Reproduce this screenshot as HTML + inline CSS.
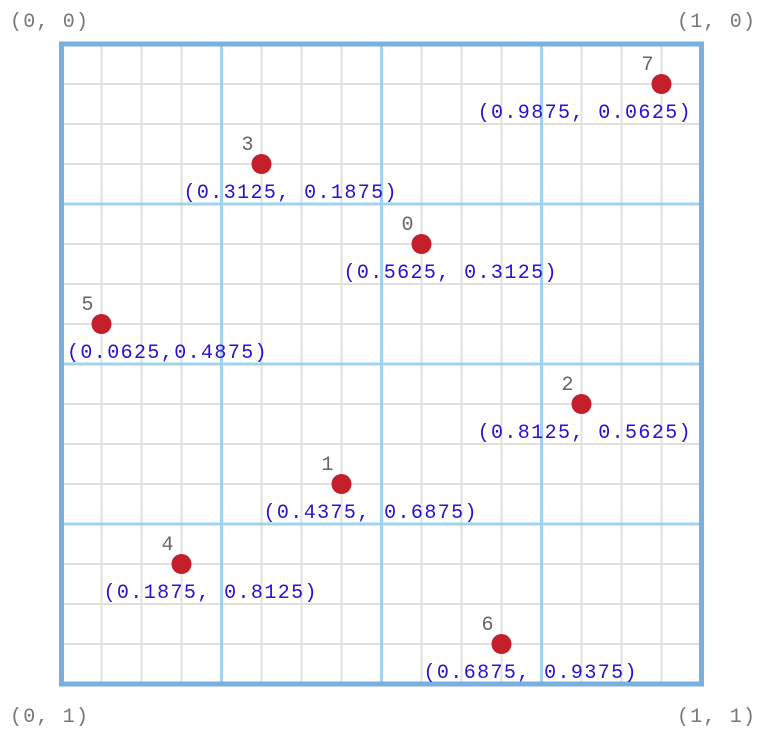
<!DOCTYPE html>
<html><head><meta charset="utf-8"><style>
html,body{margin:0;padding:0;background:#fff;}
svg text{font-family:"Liberation Mono",monospace;}
</style></head><body>
<svg id="chart" width="766" height="739" xmlns="http://www.w3.org/2000/svg">
<g id="grid"></g>
<g id="marks"></g>
<text x="10" y="27" font-size="20" fill="#777" letter-spacing="1.2">(0, 0)</text>
<text x="677" y="27" font-size="20" fill="#777" letter-spacing="1.2">(1, 0)</text>
<text x="10" y="722" font-size="20" fill="#777" letter-spacing="1.2">(0, 1)</text>
<text x="677" y="722" font-size="20" fill="#777" letter-spacing="1.2">(1, 1)</text>
</svg>
<script>
const ids=[0,1,2,3,4,5,6,7];
const xs=[0.5625,0.4375,0.8125,0.3125,0.1875,0.0625,0.6875,0.9375];
const ys=[0.3125,0.6875,0.5625,0.1875,0.8125,0.4375,0.9375,0.0625];
const labels=["(0.5625, 0.3125)","(0.4375, 0.6875)","(0.8125, 0.5625)","(0.3125, 0.1875)","(0.1875, 0.8125)","(0.0625,0.4875)","(0.6875, 0.9375)","(0.9875, 0.0625)"];
const X0=61.5,Y0=44,S=640;
const sx=v=>X0+v*S, sy=v=>Y0+v*S;
const NS="http://www.w3.org/2000/svg";
const grid=document.getElementById('grid'), marks=document.getElementById('marks');
function mk(tag,attrs,parent){const e=document.createElementNS(NS,tag);for(const k in attrs)e.setAttribute(k,attrs[k]);parent.appendChild(e);return e;}
for(let i=1;i<16;i++){
  if(i%4===0)continue;
  const l1=mk('line',{x1:sx(i/16),x2:sx(i/16),y1:Y0,y2:Y0+S,stroke:'#e0e0e0','stroke-width':2},grid);
  
  
  const l2=mk('line',{y1:sy(i/16),y2:sy(i/16),x1:X0,x2:X0+S,stroke:'#e0e0e0','stroke-width':2},grid);
  
  
}
for(let i=1;i<4;i++){
  const l1=mk('line',{x1:sx(i/4),x2:sx(i/4),y1:Y0,y2:Y0+S,stroke:'#a0d2f2','stroke-width':3},grid);
  
  
  const l2=mk('line',{y1:sy(i/4),y2:sy(i/4),x1:X0,x2:X0+S,stroke:'#a0d2f2','stroke-width':3},grid);
  
  
}
const b=mk('rect',{x:X0,y:Y0,width:S,height:S,fill:'none',stroke:'#7aafdf','stroke-width':5},grid);


for(let i=0;i<ids.length;i++){
  const cx=sx(xs[i]), cy=sy(ys[i]);
  const c=mk('circle',{cx:cx,cy:cy,r:10,fill:'#c2202a'},marks);
  
  
  const n=mk('text',{x:cx-14,y:cy-14,'font-size':20,fill:'#666','text-anchor':'middle'},marks);
  n.textContent=String(ids[i]);
  
  
  const w=labels[i].length*13.4;
  let lx=Math.max(67,Math.min(cx-78,692-w));
  const t=mk('text',{x:lx,y:cy+34,'font-size':20,fill:'#2a10d0','letter-spacing':1.4},marks);
  t.textContent=labels[i];
  
  
}
</script>
</body></html>
